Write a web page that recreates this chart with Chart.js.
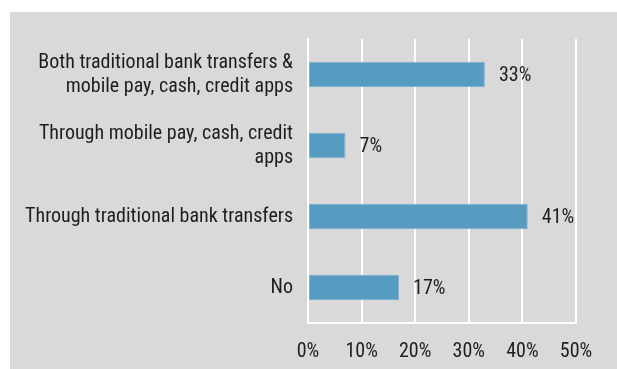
<!DOCTYPE html>
<html>
<head>
<meta charset="utf-8">
<script src="https://cdn.jsdelivr.net/npm/chart.js@4"></script>
<style>
  html, body { margin: 0; padding: 0; background: #ffffff; }
  #panel {
    position: absolute; left: 10px; top: 12px;
    width: 607px; height: 357px; background: #d9d9d9;
  }
</style>
</head>
<body>
<div id="panel"><canvas id="chart" width="607" height="357"></canvas></div>
<script>
// answers, top to bottom
const categories = [
  ['Both traditional bank transfers &', 'mobile pay, cash, credit apps'],
  ['Through mobile pay, cash, credit', 'apps'],
  'Through traditional bank transfers',
  'No'
];
const shares = [33, 7, 41, 17];
const xTicks = [0, 10, 20, 30, 40, 50];

const FONT = "'Roboto Condensed', 'Liberation Sans', Arial, sans-serif";
const TEXT = '#1e1e1e';

// write the percentage just past the end of each bar
const valueLabels = {
  id: 'valueLabels',
  afterDatasetsDraw(chart) {
    const ctx = chart.ctx;
    const meta = chart.getDatasetMeta(0);
    ctx.save();
    ctx.font = '20px ' + FONT;
    ctx.fillStyle = TEXT;
    ctx.textAlign = 'left';
    ctx.textBaseline = 'middle';
    meta.data.forEach((bar, i) => {
      ctx.fillText(shares[i] + '%', bar.x + 14, bar.y + 1);
    });
    ctx.restore();
  }
};

new Chart(document.getElementById('chart'), {
  type: 'bar',
  data: {
    labels: categories,
    datasets: [{
      data: shares,
      backgroundColor: '#569bc0',
      borderColor: '#7fb2d3',
      borderWidth: 1,
      borderSkipped: false,
      categoryPercentage: 1,
      barPercentage: 0.36
    }]
  },
  options: {
    indexAxis: 'y',
    responsive: false,
    animation: false,
    layout: { padding: { top: 26, right: 41, bottom: 0, left: 0 } },
    plugins: {
      legend: { display: false },
      tooltip: { enabled: false }
    },
    scales: {
      x: {
        min: 0,
        max: 50,
        afterBuildTicks(scale) {
          scale.ticks = xTicks.map(v => ({ value: v }));
        },
        afterFit(scale) { scale.height = 46; },
        grid: { color: '#ffffff', lineWidth: 2, drawTicks: false },
        border: { display: true, color: '#ffffff', width: 2 },
        ticks: {
          padding: 17,
          color: TEXT,
          font: { family: FONT, size: 20 },
          callback: v => v + '%'
        }
      },
      y: {
        afterFit(scale) { scale.width = 298; },
        grid: { display: false, drawTicks: false },
        border: { display: true, color: '#ffffff', width: 2 },
        ticks: {
          padding: 15,
          color: TEXT,
          font: { family: FONT, size: 20, lineHeight: 1.2 }
        }
      }
    }
  },
  plugins: [valueLabels]
});
</script>
</body>
</html>
